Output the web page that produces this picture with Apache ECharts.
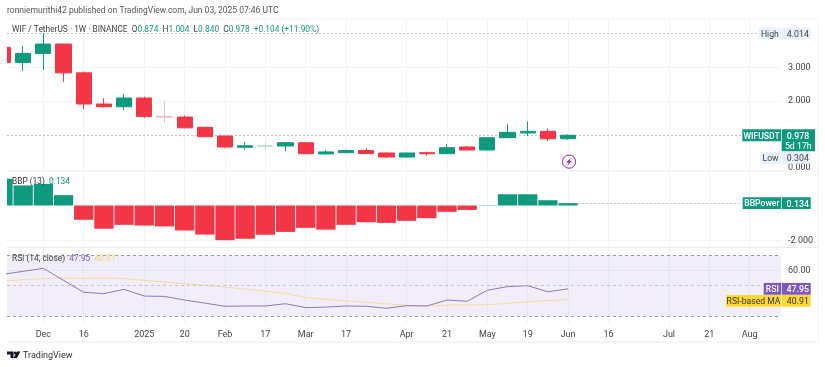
<!DOCTYPE html>
<html lang="en">
<head>
    <meta charset="UTF-8">
    <title>WIF / TetherUS weekly</title>
    <script src="https://cdn.jsdelivr.net/npm/echarts@6/dist/echarts.min.js"></script>
    <style>
        html, body, #chart {
            width: 825px;
            height: 367px;
            padding: 0;
            margin: 0;
            background: #fff;
        }
    </style>
</head>
<body>
<div id="chart"></div>
<script>
    // one entry per weekly bar, first bar is the cut off one at the left edge
    var weeks = [0,1,2,3,4,5,6,7,8,9,10,11,12,13,14,15,16,17,18,19,20,21,22,23,24,25,26,27,28];
    var opens = [3.60,3.15,3.42,3.70,2.84,1.91,1.83,2.09,1.54,1.52,1.215,0.955,0.618,0.65,0.657,0.755,0.42,0.457,0.52,0.448,0.328,0.457,0.427,0.627,0.537,0.905,1.045,1.095,0.874];
    var closes = [3.15,3.42,3.70,2.84,1.91,1.83,2.09,1.54,1.52,1.20,0.935,0.627,0.665,0.66,0.755,0.427,0.48,0.52,0.43,0.328,0.448,0.427,0.606,0.537,0.905,1.065,1.095,0.874,0.978];
    var lows = [3.10,2.90,2.93,2.57,1.76,1.80,1.73,1.50,1.35,1.18,0.92,0.60,0.546,0.546,0.507,0.42,0.40,0.44,0.42,0.31,0.307,0.367,0.42,0.53,0.53,0.90,0.955,0.80,0.84];
    var highs = [3.70,3.64,4.014,3.70,2.88,2.08,2.21,2.13,1.98,1.57,1.23,0.97,0.785,0.746,0.76,0.76,0.54,0.55,0.59,0.46,0.46,0.49,0.716,0.657,0.91,1.31,1.39,1.18,1.004];

    var bbp = [1.52,1.14,1.23,0.59,-0.81,-1.32,-1.10,-1.14,-1.19,-1.42,-1.65,-1.97,-1.89,-1.66,-1.50,-1.27,-1.37,-1.10,-0.95,-0.99,-0.87,-0.72,-0.36,-0.25,0.02,0.64,0.64,0.30,0.134];
    var rsi = [57.5,59.4,61.4,53.5,45.7,44.8,47.6,43.2,43.0,40.6,38.6,36.5,36.7,36.7,38.2,35.6,36.0,36.7,36.5,35.2,36.9,36.7,40.6,39.8,47.0,49.4,50.0,46.0,47.95];
    var rsiMa = [52.9,54.0,54.6,55.05,54.8,55.05,54.6,53.5,52.4,51.3,50.2,49.1,47.8,46.3,45.0,42.2,41.1,40.0,39.1,38.2,37.1,36.7,37.3,37.3,37.6,38.4,39.5,40.2,40.91];

    var tickWeeks = [2,4,7,9,11,13,15,17,20,22,24,26,28,30,33,35,37];
    var tickLabels = ["Dec","16","2025","20","Feb","17","Mar","17","Apr","21","May","19","Jun","16","Jul","21","Aug"];

    var allTimeHigh = 4.014, allTimeLow = 0.304, lastPrice = 0.978, lastBbp = 0.134, lastRsi = 47.95, lastMa = 40.91;

    var GREEN = "#0f9a80", RED = "#f23645", PURPLE = "#7e57c2", YELLOW = "#fdd835";
    var FONT = "Roboto, sans-serif";
    var GRID_LINE = "#f2f3f6";
    var TEXT_SIZE = 8.35;

    var myChart = echarts.init(document.getElementById("chart"));

    function xAxisFor(gridIndex, showLabels) {
        return {
            type: "value", gridIndex: gridIndex, min: 0.198, max: 38.55,
            axisLine: {show: false},
            axisTick: {show: false, customValues: tickWeeks},
            splitLine: {show: true, lineStyle: {color: GRID_LINE, width: 1}},
            axisLabel: {
                show: showLabels, customValues: tickWeeks, margin: 6,
                color: "#444", fontFamily: FONT, fontSize: 9,
                formatter: function (v) {
                    return tickLabels[tickWeeks.indexOf(v)];
                }
            }
        };
    }

    function yAxisFor(gridIndex, min, max, labels, lines, digits) {
        return {
            type: "value", gridIndex: gridIndex, min: min, max: max, position: "right",
            axisLine: {show: false},
            axisTick: {show: false, customValues: lines},
            splitLine: {show: true, lineStyle: {color: GRID_LINE, width: 1}},
            axisLabel: {
                customValues: labels, margin: 7, color: "#444", fontFamily: FONT, fontSize: 9,
                padding: [5, 0, 0, 0],
                formatter: function (v) {
                    return v.toFixed(digits);
                }
            }
        };
    }

    // very thin bodies come out pale in the reference
    function candleStyle(i) {
        if (Math.abs(opens[i] - closes[i]) >= 0.025) {
            return undefined;
        }
        var pale = closes[i] >= opens[i] ? "#b5d8d0" : "#f5b4ba";
        return {color: pale, color0: pale, borderColor: pale, borderColor0: pale};
    }

    myChart.setOption({
        animation: false,
        backgroundColor: "#fff",
        grid: [
            {left: 7, right: 44, top: 19, height: 152},
            {left: 7, right: 44, top: 171, height: 76},
            {left: 7, right: 44, top: 248, height: 76}
        ],
        xAxis: [xAxisFor(0, false), xAxisFor(1, false), xAxisFor(2, true)],
        yAxis: [
            yAxisFor(0, -0.0896, 4.448, [0, 2, 3], [2, 3], 3),
            yAxisFor(1, -2.358, 1.96, [-2], [-2], 3),
            yAxisFor(2, 24.89, 74.72, [60], [60], 2)
        ],
        series: [
            {
                type: "candlestick", xAxisIndex: 0, yAxisIndex: 0, barWidth: 15.7,
                encode: {x: 0, y: [1, 2, 3, 4]},
                data: weeks.map(function (w, i) {
                    return {value: [w, opens[i], closes[i], lows[i], highs[i]], itemStyle: candleStyle(i)};
                }),
                itemStyle: {color: GREEN, color0: RED, borderColor: GREEN, borderColor0: RED, borderWidth: 1},
                markLine: {
                    z: 1, silent: true, symbol: "none", label: {show: false},
                    lineStyle: {color: "#c2c2c2", type: [2, 2], width: 1},
                    data: [{yAxis: allTimeHigh}, {yAxis: lastPrice}]
                }
            },
            {
                type: "bar", xAxisIndex: 1, yAxisIndex: 1, barWidth: 19.3,
                data: weeks.map(function (w, i) {
                    return {value: [w, bbp[i]], itemStyle: {color: bbp[i] >= 0 ? GREEN : RED}};
                }),
                markLine: {
                    silent: true, symbol: "none", label: {show: false},
                    lineStyle: {color: "#c2c2c2", type: [2, 2], width: 1},
                    data: [[{coord: [28.5, lastBbp]}, {coord: [38.55, lastBbp]}]]
                }
            },
            {
                type: "line", xAxisIndex: 2, yAxisIndex: 2, symbol: "none",
                data: weeks.map(function (w, i) { return [w, rsi[i]]; }),
                lineStyle: {color: "#8a78c2", width: 1},
                z: 4,
                markArea: {
                    silent: true,
                    itemStyle: {color: "rgba(126,87,194,0.1)"},
                    data: [[{yAxis: 70}, {yAxis: 30}]]
                },
                markLine: {
                    silent: true, symbol: "none", label: {show: false},
                    lineStyle: {color: "#9a9aa2", type: [3, 3], width: 1},
                    data: [{yAxis: 70}, {yAxis: 30}]
                }
            },
            {
                type: "line", xAxisIndex: 2, yAxisIndex: 2, symbol: "none",
                data: weeks.map(function (w, i) { return [w, rsiMa[i]]; }),
                lineStyle: {color: "#f4dc98", width: 1},
                z: 3,
                markLine: {
                    silent: true, symbol: "none", label: {show: false},
                    lineStyle: {color: "#c4c1ce", type: [3, 3], width: 1},
                    data: [{yAxis: 50}]
                }
            }
        ]
    });

    // --- price tags, header texts and frame ---
    function hLine(x1, x2, y, color) {
        return {type: "line", z: 1, silent: true, shape: {x1: x1, y1: y, x2: x2, y2: y}, style: {stroke: color, lineWidth: 1}};
    }
    function box(x1, x2, y1, y2, color) {
        return {type: "rect", z: 20, silent: true, shape: {x: x1, y: y1, width: x2 - x1, height: y2 - y1}, style: {fill: color}};
    }
    function txt(text, x, y, color, align, size, weight) {
        return {
            type: "text", z: 21, silent: true,
            style: {
                text: text, x: x, y: y + 1.2, fill: color, align: align || "left", verticalAlign: "middle",
                font: (weight || "normal") + " " + (size || 9) + "px " + FONT
            }
        };
    }
    function richTxt(text, x, y, color, rich) {
        return {
            type: "text", z: 21, silent: true,
            style: {
                x: x, y: y + 1.2, verticalAlign: "middle", fill: color, font: TEXT_SIZE + "px " + FONT,
                text: text, rich: rich
            }
        };
    }
    function valueY(yAxisIndex, v) {
        return myChart.convertToPixel({yAxisIndex: yAxisIndex}, v);
    }

    // name part on the left of the scale, value part on the scale
    function tag(y, name, nameLeft, value, bg, color, weight) {
        return [
            box(nameLeft, 781, y - 5.9, y + 5.9, bg),
            box(781.7, 810.7, y - 5.9, y + 5.9, bg),
            txt(name, (nameLeft + 781) / 2, y, color, "center", 8.6, weight),
            txt(value, 797.8, y, color, "center", 8.8, weight)
        ];
    }

    var yLast = valueY(0, lastPrice);
    var yMa = valueY(2, lastMa) + 1.3;
    var INFO_BG = "#e8f0fb";
    var g = [
        hLine(7, 818, 19, "#f1f2f5"),
        hLine(7, 818, 171, "#ececf0"),
        hLine(7, 818, 247.5, "#ececf0"),
        hLine(7, 818, 342, "#ececf0"),
        {type: "line", z: 1, silent: true, shape: {x1: 818, y1: 19, x2: 818, y2: 342}, style: {stroke: "#f0f0f3", lineWidth: 1}},

        // bars may overflow the grid on a value axis, cover the part left of the pane
        box(0, 7, 19, 248, "#fff"),

        txt("ronniemurithi42 published on TradingView.com, Jun 03, 2025 07:46 UTC", 7, 10, "#555", "left", 8.5),
        richTxt("WIF / TetherUS · 1W · BINANCE  {k|O}{v|0.874}  {k|H}{v|1.004}  {k|L}{v|0.840}  {k|C}{v|0.978}  {v|+0.104 (+11.90%)}", 12, 29, "#444", {
            k: {fill: "#444", font: TEXT_SIZE + "px " + FONT},
            v: {fill: GREEN, font: TEXT_SIZE + "px " + FONT}
        }),
        richTxt("BBP (13)  {v|0.134}", 12, 181, "#333", {
            v: {fill: GREEN, font: TEXT_SIZE + "px " + FONT}
        }),
        richTxt("RSI (14, close)  {a|47.95}  {b|40.91}", 12, 258, "#444", {
            a: {fill: PURPLE, font: TEXT_SIZE + "px " + FONT},
            b: {fill: "#f2d777", font: TEXT_SIZE + "px " + FONT}
        }),

        // last price tag has a second line with the countdown
        box(742.3, 781, yLast - 5.9, yLast + 5.9, GREEN),
        box(781.7, 815, yLast - 5.9, yLast + 16, GREEN),
        txt("WIFUSDT", 761.6, yLast, "#fff", "center", 8.6, "500"),
        txt(lastPrice.toFixed(3), 798, yLast, "#fff", "center", 8.8, "500"),
        txt("5d 17h", 798.3, yLast + 10.3, "#fff", "center", 8.8)
    ];

    g = g.concat(
        tag(valueY(0, allTimeHigh), "High", 758.7, allTimeHigh.toFixed(3), INFO_BG, "#444"),
        tag(valueY(0, allTimeLow), "Low", 760, allTimeLow.toFixed(3), INFO_BG, "#444"),
        tag(valueY(1, lastBbp), "BBPower", 742.7, lastBbp.toFixed(3), GREEN, "#fff", "500"),
        tag(valueY(2, lastRsi), "RSI", 763.7, lastRsi.toFixed(2), PURPLE, "#fff", "500"),
        tag(yMa, "RSI-based MA", 726, lastMa.toFixed(2), YELLOW, "#333")
    );

    // lightning mark under the last bar
    var boltX = myChart.convertToPixel({xAxisIndex: 0}, weeks[weeks.length - 1]) + 1;
    var boltY = valueY(0, 0.19);
    g.push({type: "circle", z: 21, silent: true, shape: {cx: boltX, cy: boltY, r: 6.6}, style: {fill: "#fff", stroke: "#8e24aa", lineWidth: 1}});
    g.push({
        type: "polygon", z: 22, silent: true,
        shape: {points: [[boltX + 2.2, boltY - 4.4], [boltX - 3, boltY + 0.8], [boltX - 0.3, boltY + 0.8], [boltX - 2.2, boltY + 4.4], [boltX + 3, boltY - 1], [boltX + 0.3, boltY - 1]]},
        style: {fill: "#8e24aa"}
    });

    // TradingView mark
    g.push({type: "polygon", z: 21, silent: true, shape: {points: [[7, 351.5], [13.5, 351.5], [13.5, 358], [10.5, 358], [10.5, 354.5], [7, 354.5]]}, style: {fill: "#131722"}});
    g.push({type: "circle", z: 21, silent: true, shape: {cx: 15.2, cy: 353, r: 1.5}, style: {fill: "#131722"}});
    g.push({type: "polygon", z: 21, silent: true, shape: {points: [[17, 351.5], [20.5, 351.5], [16.8, 358], [13.6, 358]]}, style: {fill: "#131722"}});
    g.push(txt("TradingView", 23, 355, "#333", "left", 9));

    myChart.setOption({graphic: {elements: g}});
</script>
</body>
</html>
